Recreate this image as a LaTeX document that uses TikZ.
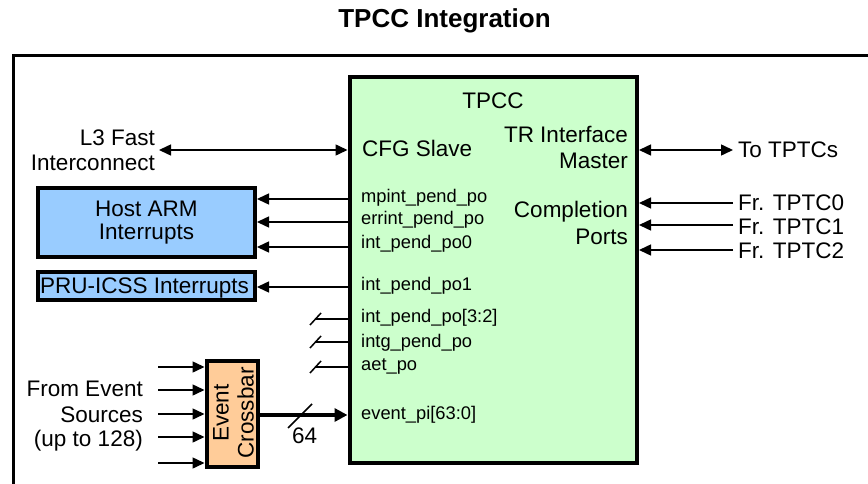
\documentclass[tikz,border=0pt]{standalone}
\usepackage{fontspec}
\setmainfont{Liberation Sans}
\usetikzlibrary{arrows.meta}
\definecolor{tpccgreen}{RGB}{204,255,204}
\definecolor{armblue}{RGB}{153,204,255}
\definecolor{xbarpeach}{RGB}{255,204,153}
\begin{document}
\begin{tikzpicture}[x=1pt,y=-1pt,
  big/.style={font=\fontsize{22.5}{25}\selectfont, inner sep=0},
  sig/.style={font=\fontsize{18.3}{21}\selectfont, inner sep=0, anchor=base west},
  blk/.style={draw, line width=4pt, inner sep=0},
  arr/.style={line width=1.5pt, -{Triangle[length=12pt,width=11pt]}},
  darr/.style={line width=1.5pt, {Triangle[length=12pt,width=11pt]}-{Triangle[length=12pt,width=11pt]}},
  thin/.style={line width=1.5pt}]
\useasboundingbox (0,0) rectangle (868,484);

% title
\node[font=\bfseries\fontsize{26}{30}\selectfont, anchor=base, inner sep=0] (title) at (444.5,28) {TPCC Integration};

% outer frame
\draw[line width=3pt] (13.5,484) -- (13.5,55.5) -- (868,55.5);

% TPCC block
\node[blk, fill=tpccgreen, minimum width=287.5pt, minimum height=386pt] (tpcc) at (493.25,270) {};
\node[big, anchor=base] (tpccT) at (493,109) {TPCC};
\node[big, anchor=base west] (cfg) at (362,157) {CFG Slave};
\node[big, anchor=base east] (tr1) at (628,143) {TR Interface};
\node[big, anchor=base east] (tr2) at (628,169) {Master};
\node[big, anchor=base east] (cp1) at (628,218) {Completion};
\node[big, anchor=base east] (cp2) at (628,244) {Ports};

\node[sig] (s1) at (361,202) {mpint\_pend\_po};
\node[sig] (s2) at (361,225) {errint\_pend\_po};
\node[sig] (s3) at (361,248) {int\_pend\_po0};
\node[sig] (s4) at (361,290) {int\_pend\_po1};
\node[sig] (s5) at (361,322) {int\_pend\_po[3:2]};
\node[sig] (s6) at (361,347) {intg\_pend\_po};
\node[sig] (s7) at (361,370) {aet\_po};
\node[sig] (s8) at (361,419) {event\_pi[63:0]};

% left blocks
\node[blk, fill=armblue, minimum width=217pt, minimum height=69pt] (host) at (146.5,222.5) {};
\node[big, anchor=base] (hostT1) at (146.5,216) {Host ARM};
\node[big, anchor=base] (hostT2) at (146.5,240) {Interrupts};
\node[blk, fill=armblue, minimum width=217pt, minimum height=28pt] (pru) at (146.5,286) {};
\node[big, anchor=base] (pruT) at (144.5,293) {PRU-ICSS Interrupts};

% L3
\node[big, anchor=base east] (l3a) at (155,146) {L3 Fast};
\node[big, anchor=base east] (l3b) at (155,171) {Interconnect};
\coordinate (l3end) at (159,150);
\draw[darr] (l3end) -- (tpcc.west |- l3end);

% interrupts to host / pru
\foreach \yy in {199,222,247}
  \draw[arr] (tpcc.west |- 0,\yy) -- (host.east |- 0,\yy);
\draw[arr] (tpcc.west |- 0,287) -- (pru.east |- 0,287);

% bus stubs
\foreach \yy in {319,342,367}{
  \coordinate (b\yy) at (315,\yy);
  \draw[thin] (b\yy) -- (tpcc.west |- b\yy);
  \draw[thin] (310,\yy+6) -- (321,\yy-6);
}

% event crossbar
\node[blk, fill=xbarpeach, minimum width=51pt, minimum height=106pt] (xbar) at (232,413.5) {};
\node[big, rotate=90, align=center] (xbarT) at (233.5,413) {Event\\Crossbar};
\foreach \yy in {367,390,414,437,463}{
  \coordinate (in\yy) at (158,\yy);
  \draw[arr] (in\yy) -- (xbar.west |- in\yy);
}
\node[big, anchor=base east] (ev1) at (143,396) {From Event};
\node[big, anchor=base east] (ev2) at (143,422) {Sources};
\node[big, anchor=base east] (ev3) at (143,446) {(up to 128)};

\draw[line width=4pt, -{Triangle[length=13pt,width=13pt]}] (xbar.east |- 0,415) -- (tpcc.west |- 0,415);
\draw[thin] (288,428) -- (312,404);
\node[big, anchor=base west] (n64) at (292,443) {64};

% right side
\coordinate (toEnd) at (733,150);
\draw[darr] (tpcc.east |- toEnd) -- (toEnd);
\node[big, anchor=base west] (toT) at (738,158) {To TPTCs};
\foreach \yy/\bl/\k in {203/211/0,225/234/1,250/258/2}{
  \coordinate (fr\k) at (733,\yy);
  \draw[arr] (fr\k) -- (tpcc.east |- fr\k);
  \node[big, anchor=base west] (frT\k) at (738,\bl) {Fr. TPTC\k};
}
\end{tikzpicture}
\end{document}
